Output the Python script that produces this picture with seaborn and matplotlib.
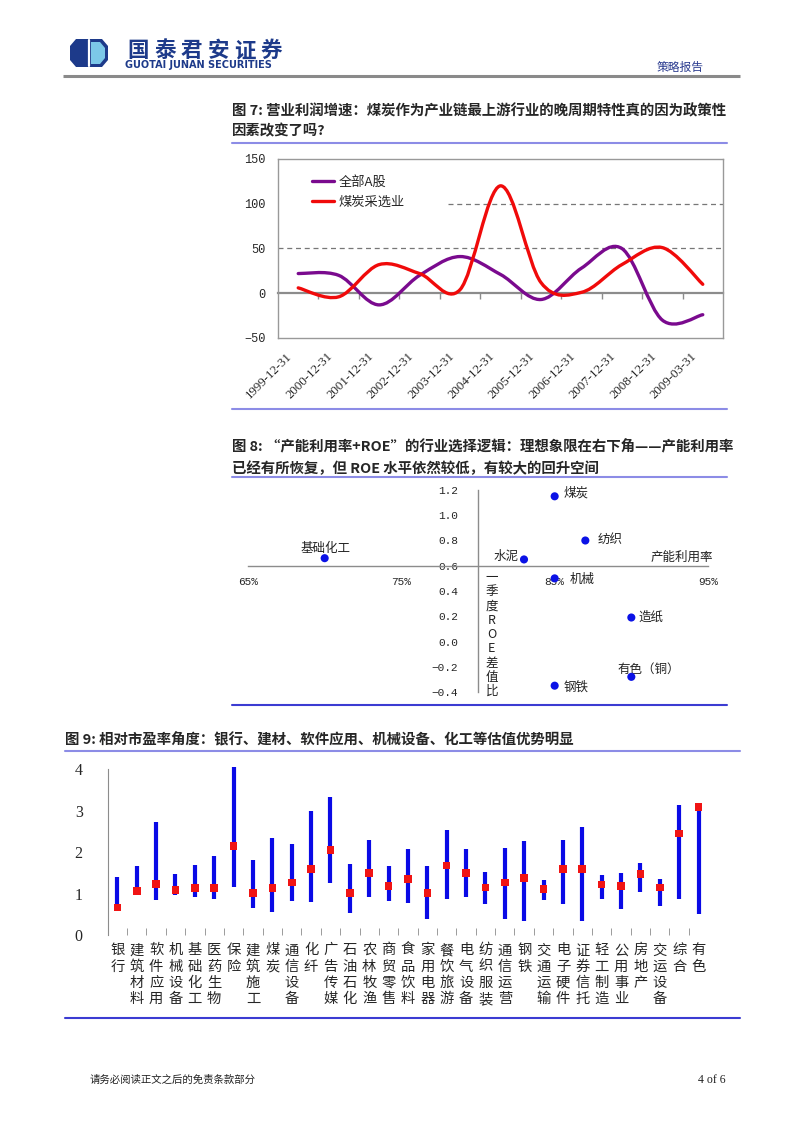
import numpy as np
import matplotlib
matplotlib.use('Agg')
import matplotlib.pyplot as plt
import seaborn as sns
from matplotlib.path import Path
from matplotlib.patches import PathPatch, Polygon
from matplotlib.lines import Line2D
import matplotlib.transforms as mtransforms

sns.set_style('white')
CJK = ['Noto Sans CJK SC', 'DejaVu Sans']
MONO = ['Liberation Mono', 'DejaVu Sans Mono']
SERIF = ['Liberation Serif', 'DejaVu Serif']
plt.rcParams['font.family'] = CJK
plt.rcParams['axes.unicode_minus'] = True

# ---------------- data: figure 7 ----------------
dates7 = ['1999-12-31', '2000-12-31', '2001-12-31', '2002-12-31', '2003-12-31',
          '2004-12-31', '2005-12-31', '2006-12-31', '2007-12-31', '2008-12-31',
          '2009-03-31']
a_share7 = [22, 20, -13, 20, 41, 21, -7, 28, 50, -30, -24]
coal7 = [6, -4, 32, 22, 4, 120, 12, 1, 32, 51, 10]
series7 = ['全部A股', '煤炭采选业']
yticks7 = [-50, 0, 50, 100, 150]

# ---------------- data: figure 8 ----------------
ind8 = ['基础化工', '水泥', '煤炭', '纺织', '机械', '造纸', '有色（铜）', '钢铁']
util8 = [70, 83, 85, 87, 85, 90, 90, 85]
roe8 = [0.66, 0.65, 1.15, 0.80, 0.50, 0.19, -0.28, -0.35]
xticks8 = [65, 75, 85, 95]
yticks8 = [-0.4, -0.2, 0.0, 0.2, 0.4, 0.6, 0.8, 1.0, 1.2]

# ---------------- data: figure 9 ----------------
sectors9 = ['银行', '建筑材料', '软件应用', '机械设备', '基础化工', '医药生物', '保险',
            '建筑施工', '煤炭', '通信设备', '化纤', '广告传媒', '石油石化', '农林牧渔',
            '商贸零售', '食品饮料', '家用电器', '餐饮旅游', '电气设备', '纺织服装',
            '通信运营', '钢铁', '交通运输', '电子硬件', '证券信托', '轻工制造',
            '公用事业', '房地产', '交运设备', '综合', '有色']
pe_high9 = [1.39, 1.67, 2.72, 1.48, 1.68, 1.91, 4.06, 1.82, 2.35, 2.19, 3.00,
            3.33, 1.71, 2.29, 1.66, 2.07, 1.67, 2.54, 2.07, 1.52, 2.09, 2.28,
            1.34, 2.29, 2.60, 1.44, 1.50, 1.73, 1.36, 3.15, 3.10]
pe_low9 = [0.58, 0.98, 0.84, 0.96, 0.93, 0.88, 1.17, 0.65, 0.56, 0.83, 0.80,
           1.25, 0.53, 0.93, 0.83, 0.78, 0.39, 0.86, 0.93, 0.74, 0.39, 0.35,
           0.85, 0.74, 0.33, 0.88, 0.62, 1.05, 0.70, 0.86, 0.51]
pe_now9 = [0.66, 1.06, 1.23, 1.09, 1.13, 1.14, 2.15, 1.01, 1.13, 1.27, 1.60,
           2.05, 1.01, 1.50, 1.19, 1.35, 1.01, 1.68, 1.50, 1.15, 1.27, 1.38,
           1.11, 1.60, 1.60, 1.22, 1.19, 1.47, 1.15, 2.45, 3.09]

W, H = 802, 1134
fig = plt.figure(figsize=(W / 100, H / 100), dpi=100)
bg = fig.add_axes([0, 0, 1, 1])
bg.set_xlim(0, W)
bg.set_ylim(H, 0)
bg.axis('off')


def rect(l, t, r, b):
    return [l / W, 1 - b / H, (r - l) / W, (b - t) / H]


NAVY = '#1d3a8a'
RULE_LIGHT = '#8c8ce6'
RULE_DARK = '#3c3cd2'

# ---------------- header ----------------
bg.add_patch(Polygon([(76, 39), (102, 39), (108, 46), (108, 60), (102, 67),
                      (76, 67), (70, 60), (70, 46)], closed=True, fc=NAVY, ec='none'))
bg.add_patch(Polygon([(91, 42), (100, 42), (105, 48), (105, 58), (100, 64), (91, 64)],
                     closed=True, fc='#7cc8e8', ec='none'))
bg.plot([88.5, 88.5], [40, 66], color='white', lw=1.6)
for i, ch in enumerate('国泰君安证券'):
    bg.text(138 + 26.7 * i, 50.5, ch, fontsize=15.5, weight='bold', color=NAVY,
            ha='center', va='center')
bg.text(125, 64.5, 'GUOTAI JUNAN SECURITIES', fontsize=7, weight='bold', color=NAVY,
        family=['DejaVu Sans'], ha='left', va='center')
bg.text(657, 67, '策略报告', fontsize=8.5, color='#2a3b8f', ha='left', va='center')
bg.plot([63, 740], [75.5, 75.5], color='#8a8a8a', lw=2.2, solid_capstyle='butt')

# ---------------- titles / rules ----------------
TS = 10.4
bg.text(232, 111, '图 7: 营业利润增速：煤炭作为产业链最上游行业的晚周期特性真的因为政策性',
        fontsize=TS, weight='bold', va='center', ha='left')
bg.text(232, 131, '因素改变了吗?', fontsize=TS, weight='bold', va='center', ha='left')
bg.plot([232, 727], [142.5, 142.5], color=RULE_LIGHT, lw=1.5)
bg.plot([232, 727], [409, 409], color=RULE_LIGHT, lw=1.5)

bg.text(232, 447, '图 8: “产能利用率+ROE”的行业选择逻辑：理想象限在右下角——产能利用率',
        fontsize=TS, weight='bold', va='center', ha='left')
bg.text(232, 469, '已经有所恢复，但 ROE 水平依然较低，有较大的回升空间',
        fontsize=TS, weight='bold', va='center', ha='left')
bg.plot([232, 727], [477, 477], color=RULE_LIGHT, lw=1.5)
bg.plot([232, 727], [705, 705], color=RULE_DARK, lw=1.5)

bg.text(65, 740, '图 9: 相对市盈率角度：银行、建材、软件应用、机械设备、化工等估值优势明显',
        fontsize=TS, weight='bold', va='center', ha='left')
bg.plot([65, 740], [751, 751], color=RULE_LIGHT, lw=1.5)
bg.plot([65, 740], [1018, 1018], color=RULE_DARK, lw=1.5)

bg.text(90, 1080, '请务必阅读正文之后的免责条款部分', fontsize=7.5, color='#222222',
        ha='left', va='center')
bg.text(698, 1080, '4 of 6', fontsize=8.5, family=SERIF, color='#222222',
        ha='left', va='center')

# ---------------- figure 7 ----------------
PURPLE = '#7a0a8e'
RED = '#f00a0a'
GRAY = '#999999'
ax7 = fig.add_axes(rect(278, 159, 723, 338))
ax7.set_xlim(-0.5, len(dates7) - 0.5)
ax7.set_ylim(-50, 150)


def smooth_path(ys):
    n = len(ys)
    pts = np.column_stack([np.arange(n, dtype=float), np.asarray(ys, dtype=float)])
    verts = [pts[0]]
    codes = [Path.MOVETO]
    for i in range(n - 1):
        p0 = pts[max(i - 1, 0)]
        p1 = pts[i]
        p2 = pts[i + 1]
        p3 = pts[min(i + 2, n - 1)]
        verts += [p1 + (p2 - p0) / 6.0, p2 - (p3 - p1) / 6.0, p2]
        codes += [Path.CURVE4] * 3
    return Path(verts, codes)


ax7.axhline(50, color='#777777', lw=0.9, ls=(0, (4, 3)), zorder=1)
ax7.axhline(100, xmin=0.382, color='#777777', lw=0.9, ls=(0, (4, 3)), zorder=1)
for ys, col in [(a_share7, PURPLE), (coal7, RED)]:
    ax7.add_patch(PathPatch(smooth_path(ys), fill=False, ec=col, lw=2.4,
                            capstyle='round', joinstyle='round', zorder=3))
for s in ax7.spines.values():
    s.set_color(GRAY)
    s.set_linewidth(1.0)
ax7.set_yticks(yticks7)
ax7.set_yticklabels([str(v).replace('-', '−') for v in yticks7], family=MONO, fontsize=8.6)
ax7.tick_params(axis='y', length=0, pad=9)
ax7.set_xticks(range(len(dates7)))
ax7.set_xticklabels(dates7, rotation=45, ha='right', va='top', rotation_mode='anchor',
                    family=SERIF, fontsize=9.3)
ax7.tick_params(axis='x', length=0, pad=9)
off = mtransforms.ScaledTranslation(-12 / 100, 0, fig.dpi_scale_trans)
for lbl in ax7.get_xticklabels():
    lbl.set_transform(lbl.get_transform() + off)
sec = ax7.secondary_xaxis(0.25)
sec.set_xticks(np.arange(0.5, len(dates7) - 1, 1.0))
sec.tick_params(axis='x', direction='out', length=4, width=1, color='#8c8c8c',
                labelbottom=False, labeltop=False, bottom=True, top=False)
for s in sec.spines.values():
    s.set_color('#8c8c8c')
    s.set_linewidth(1.6)
handles = [Line2D([], [], color=PURPLE, lw=2.4), Line2D([], [], color=RED, lw=2.4)]
ax7.legend(handles, series7, loc='upper left',
           bbox_to_anchor=((312 - 278) / 445, 1 - (176 - 159) / 179),
           frameon=False, fontsize=9.5, handlelength=1.7, handletextpad=0.3,
           labelspacing=0.5, borderaxespad=0, borderpad=0)

# ---------------- figure 8 ----------------
BLUE8 = '#0b12e6'
ax8 = fig.add_axes(rect(248, 490, 708, 692))
ax8.patch.set_alpha(0)
ax8.set_xlim(65, 95)
ax8.set_ylim(-0.4, 1.2)
sns.scatterplot(x=util8, y=roe8, ax=ax8, color=BLUE8, s=34, edgecolor='none',
                zorder=4, clip_on=False, legend=False)
ax8.set_xlabel('')
ax8.set_ylabel('')
ax8.spines['left'].set_position(('data', 80))
ax8.spines['bottom'].set_position(('data', 0.6))
ax8.spines['top'].set_visible(False)
ax8.spines['right'].set_visible(False)
for k in ['left', 'bottom']:
    ax8.spines[k].set_color('#8c8c8c')
    ax8.spines[k].set_linewidth(1.0)
ax8.set_xticks(xticks8)
ax8.set_xticklabels([f'{v}%' for v in xticks8], family=MONO, fontsize=8)
ax8.set_yticks(yticks8)
ax8.set_yticklabels([f'{v:.1f}'.replace('-', '−') for v in yticks8], family=MONO, fontsize=8)
ax8.tick_params(axis='x', direction='inout', length=5, color='#8c8c8c', pad=5.5)
ax8.tick_params(axis='y', direction='inout', length=5, color='#8c8c8c', pad=12)
# label offsets in pixels (dx, dy up), alignment
lab_off = {'基础化工': (1, 10, 'center'), '水泥': (-5, 3, 'right'), '煤炭': (9, 3, 'left'),
           '纺织': (12, 1, 'left'), '机械': (15, -1, 'left'), '造纸': (7, 0, 'left'),
           '有色（铜）': (17, 8, 'center'), '钢铁': (9, -2, 'left')}
for name, xv, yv in zip(ind8, util8, roe8):
    dx, dy, ha = lab_off[name]
    ax8.annotate(name, (xv, yv), xytext=(dx * 0.72, dy * 0.72), textcoords='offset points',
                 ha=ha, va='center', fontsize=9, color='#222222')
for k, ch in enumerate('一季度ROE差值比'):
    bg.text(491.7, 577.7 + 14.25 * k, ch, ha='center', va='center', fontsize=9,
            color='#222222')
bg.text(713, 557, '产能利用率', ha='right', va='center', fontsize=9, color='#222222')

# ---------------- figure 9 ----------------
BLUE9 = '#0a0ae6'
RED9 = '#f01414'
ax9 = fig.add_axes(rect(107.7, 765.3, 708.2, 935))
ax9.set_xlim(-0.5, len(sectors9) - 0.5)
ax9.set_ylim(0, 4.1)
xpos = np.arange(len(sectors9))
ax9.vlines(xpos, pe_low9, pe_high9, color=BLUE9, lw=3.0, zorder=2)
sns.scatterplot(x=xpos, y=pe_now9, ax=ax9, marker='s', color=RED9, s=30,
                edgecolor='none', zorder=3, legend=False, clip_on=False)
ax9.set_xlabel('')
ax9.set_ylabel('')
for k in ['top', 'right', 'bottom']:
    ax9.spines[k].set_visible(False)
ax9.spines['left'].set_color('#8c8c8c')
ax9.spines['left'].set_bounds(0, 4)
ax9.set_yticks([0, 1, 2, 3, 4])
ax9.set_yticklabels(['0', '1', '2', '3', '4'], family=SERIF, fontsize=11.5)
ax9.tick_params(axis='y', direction='in', length=5, color='#8c8c8c', pad=18)
ax9.set_xticks(xpos)
ax9.set_xticklabels(['\n'.join(s) for s in sectors9], fontsize=10.3, linespacing=1.2,
                    va='top')
ax9.set_xticks(xpos[:-1] + 0.5, minor=True)
ax9.tick_params(axis='x', which='major', length=0, pad=6)
ax9.tick_params(axis='x', which='minor', direction='in', length=5, color='#8c8c8c',
                bottom=True)

fig.savefig('out.png', dpi=100)
